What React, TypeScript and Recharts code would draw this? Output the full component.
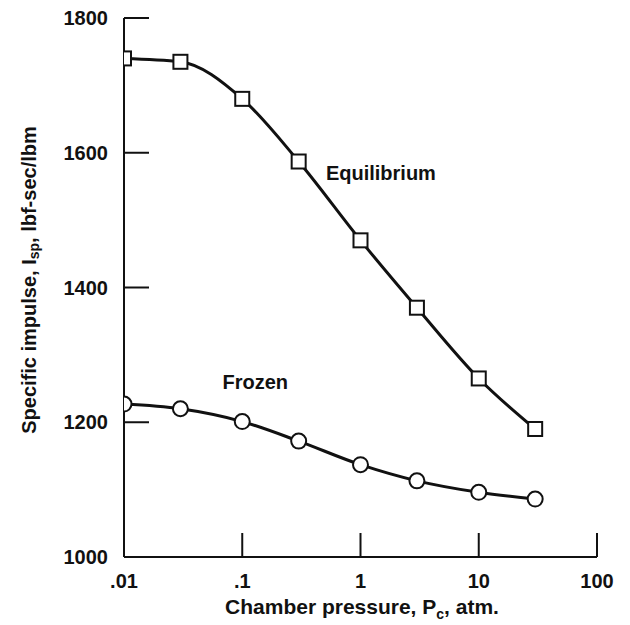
import React from 'react';
import { LineChart, Line, XAxis, YAxis, ReferenceDot, Label } from 'recharts';

const pressures = [0.01, 0.03, 0.1, 0.3, 1, 3, 10, 30];
const equilibrium = [1740, 1735, 1680, 1587, 1470, 1370, 1265, 1190];
const frozen = [1227, 1220, 1201, 1172, 1137, 1113, 1096, 1086];
const xTicks = [0.01, 0.1, 1, 10, 100];
const xTickLabels = ['.01', '.1', '1', '10', '100'];
const yTicks = [1000, 1200, 1400, 1600, 1800];

const data = pressures.map((p, i) => ({ p, eq: equilibrium[i], fr: frozen[i] }));

const FONT = '"Liberation Sans", Arial, Helvetica, sans-serif';
const INK = '#111';

const XTick = (props: any) => {
  const { x, y, payload } = props;
  const idx = xTicks.indexOf(payload.value);
  return (
    <g>
      <line x1={x} x2={x} y1={y} y2={y - 24} stroke={INK} strokeWidth={2} />
      <text x={x} y={y + 31} textAnchor="middle" fontFamily={FONT} fontWeight="bold" fontSize={20} fill={INK}>
        {idx >= 0 ? xTickLabels[idx] : String(payload.value)}
      </text>
    </g>
  );
};

const YTick = (props: any) => {
  const { x, y, payload } = props;
  return (
    <g>
      <line x1={x} x2={x + 25} y1={y} y2={y} stroke={INK} strokeWidth={2} />
      <text x={x - 16} y={y} dy="0.36em" textAnchor="end" fontFamily={FONT} fontWeight="bold" fontSize={20} fill={INK}>
        {payload.value}
      </text>
    </g>
  );
};

const SquareDot = (props: any) => {
  const { cx, cy, index } = props;
  return <rect key={`sq-${index}`} x={cx - 7} y={cy - 7} width={14} height={14} fill="#fff" stroke={INK} strokeWidth={2} />;
};

const CircleDot = (props: any) => {
  const { cx, cy, index } = props;
  return <circle key={`ci-${index}`} cx={cx} cy={cy} r={7.5} fill="#fff" stroke={INK} strokeWidth={2} />;
};

const YLabel = () => (
  <text
    x={29}
    y={280}
    transform="rotate(-90 29 280)"
    textAnchor="middle"
    dominantBaseline="central"
    fontFamily={FONT}
    fontWeight="bold"
    fontSize={20}
    fill={INK}
  >
    <tspan>Specific impulse, I</tspan>
    <tspan fontSize={14} dy={5}>sp</tspan>
    <tspan dy={-5}>, lbf-sec/lbm</tspan>
  </text>
);

const XLabel = () => (
  <text x={362} y={614} textAnchor="middle" fontFamily={FONT} fontWeight="bold" fontSize={21} fill={INK}>
    <tspan>Chamber pressure,  P</tspan>
    <tspan fontSize={14} dy={5}>c</tspan>
    <tspan dy={-5}>, atm.</tspan>
  </text>
);

export default function App() {
  return (
    <div style={{ position: 'absolute', left: 0, top: 0, width: 630, height: 625, background: '#fff' }}>
      <LineChart width={630} height={625} data={data} margin={{ top: 18, right: 33, bottom: 0, left: 0 }}>
        <XAxis
          dataKey="p"
          type="number"
          scale="log"
          domain={[0.01, 100]}
          ticks={xTicks}
          interval={0}
          allowDataOverflow
          height={68}
          tickSize={0}
          tickMargin={0}
          tickLine={false}
          axisLine={{ stroke: INK, strokeWidth: 2 }}
          tick={<XTick />}
        >
          <Label content={<XLabel />} />
        </XAxis>
        <YAxis
          type="number"
          domain={[1000, 1800]}
          ticks={yTicks}
          interval={0}
          width={124}
          tickSize={0}
          tickMargin={0}
          tickLine={false}
          axisLine={{ stroke: INK, strokeWidth: 2 }}
          tick={<YTick />}
        >
          <Label content={<YLabel />} />
        </YAxis>
        <Line
          dataKey="eq"
          type="monotone"
          stroke={INK}
          strokeWidth={3}
          dot={<SquareDot />}
          activeDot={false}
          isAnimationActive={false}
        />
        <Line
          dataKey="fr"
          type="monotone"
          stroke={INK}
          strokeWidth={3}
          dot={<CircleDot />}
          activeDot={false}
          isAnimationActive={false}
        />
        <ReferenceDot
          x={0.51}
          y={1570}
          r={0}
          fill="none"
          stroke="none"
          label={{ value: 'Equilibrium', position: 'right', offset: 0, fontFamily: FONT, fontWeight: 'bold', fontSize: 20, fill: INK }}
        />
        <ReferenceDot
          x={0.068}
          y={1260}
          r={0}
          fill="none"
          stroke="none"
          label={{ value: 'Frozen', position: 'right', offset: 0, fontFamily: FONT, fontWeight: 'bold', fontSize: 20, fill: INK }}
        />
      </LineChart>
    </div>
  );
}
